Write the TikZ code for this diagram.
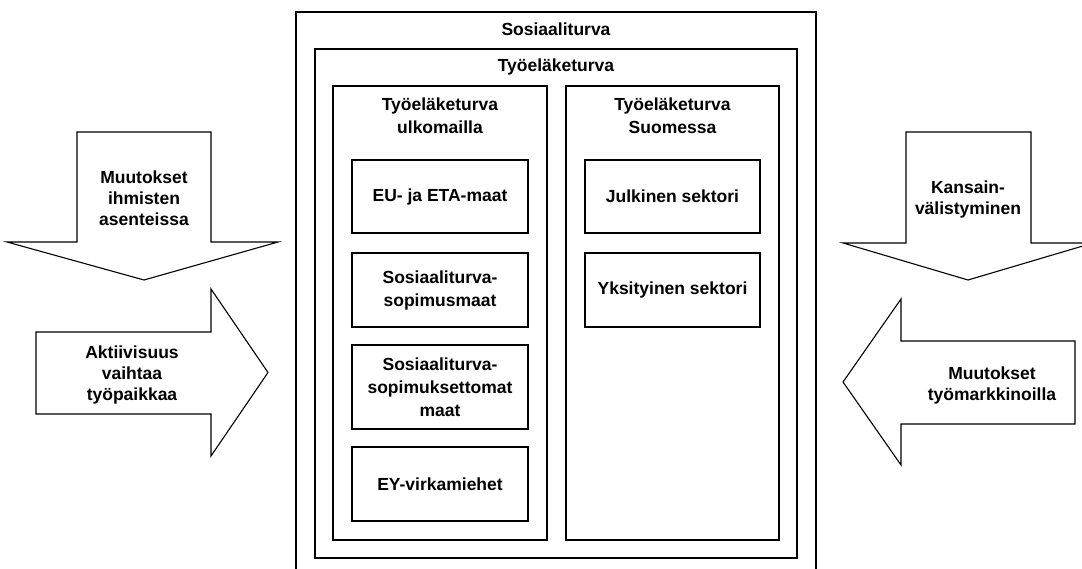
\documentclass[tikz,border=0pt]{standalone}
\usepackage{fontspec}
\setmainfont{Liberation Sans}
\begin{document}
\begin{tikzpicture}[x=1pt,y=-1pt,
  box/.style={draw, line width=1.4pt, inner sep=0pt, outer sep=0pt, rectangle},
  lbl/.style={font=\bfseries\fontsize{17.5}{23}\selectfont, align=center, inner sep=0pt},
  albl/.style={font=\bfseries\fontsize{17.5}{21}\selectfont, align=center, inner sep=0pt},
  bigarrow/.style={draw, line width=1.1pt, line join=miter, fill=white}]
\useasboundingbox (0,0) rectangle (1082,569);
\clip (0,0) rectangle (1082,569);
% containers
\node[box, minimum width=520pt, minimum height=568pt, anchor=north west] (outer) at (296,12) {};
\node[box, minimum width=482pt, minimum height=509pt, anchor=north west] (inner) at (315,49) {};
\node[box, minimum width=214pt, minimum height=454pt, anchor=north west] (colL) at (333,86) {};
\node[box, minimum width=213pt, minimum height=454pt, anchor=north west] (colR) at (566,86) {};
% titles
\node[lbl] (tSos) at (556,29) {Sosiaaliturva};
\node[lbl] (tTyo) at (556,67) {Työeläketurva};
\node[lbl] (tL) at (440,116) {Työeläketurva\\ulkomailla};
\node[lbl] (tR) at (672.5,116) {Työeläketurva\\Suomessa};
% left column boxes
\node[box, lbl, minimum width=176pt, minimum height=73pt] (eu) at (440,196.5) {EU- ja ETA-maat};
\node[box, lbl, minimum width=176pt, minimum height=74pt] (sop) at (440,290) {Sosiaaliturva-\\sopimusmaat};
\node[box, lbl, minimum width=176pt, minimum height=84pt] (sopt) at (440,387) {Sosiaaliturva-\\sopimuksettomat\\maat};
\node[box, lbl, minimum width=176pt, minimum height=74pt] (ey) at (440,484) {EY-virkamiehet};
% right column boxes
\node[box, lbl, minimum width=175pt, minimum height=73pt] (julk) at (672.5,196.5) {Julkinen sektori};
\node[box, lbl, minimum width=175pt, minimum height=74pt] (yks) at (672.5,290) {Yksityinen sektori};
% arrows
\draw[bigarrow] (77,132) -- (211,132) -- (211,242) -- (278,242) -- (144,280) -- (7,242) -- (77,242) -- cycle;
\node[albl] (a1) at (144,198) {Muutokset\\ihmisten\\asenteissa};
\draw[bigarrow] (36,332) -- (211,332) -- (211,289) -- (268,372.5) -- (211,456) -- (211,414) -- (36,414) -- cycle;
\node[albl] (a2) at (132,375) {Aktiivisuus\\vaihtaa\\työpaikkaa};
\draw[bigarrow] (906,132) -- (1031,132) -- (1031,243) -- (1093,243) -- (968,280) -- (843,243) -- (906,243) -- cycle;
\node[albl] (a3) at (968,199) {Kansain-\\välistyminen};
\draw[bigarrow] (1075,341) -- (901,341) -- (901,299) -- (843,382) -- (901,465) -- (901,424) -- (1075,424) -- cycle;
\node[albl] (a4) at (992,385) {Muutokset\\työmarkkinoilla};
\end{tikzpicture}
\end{document}
